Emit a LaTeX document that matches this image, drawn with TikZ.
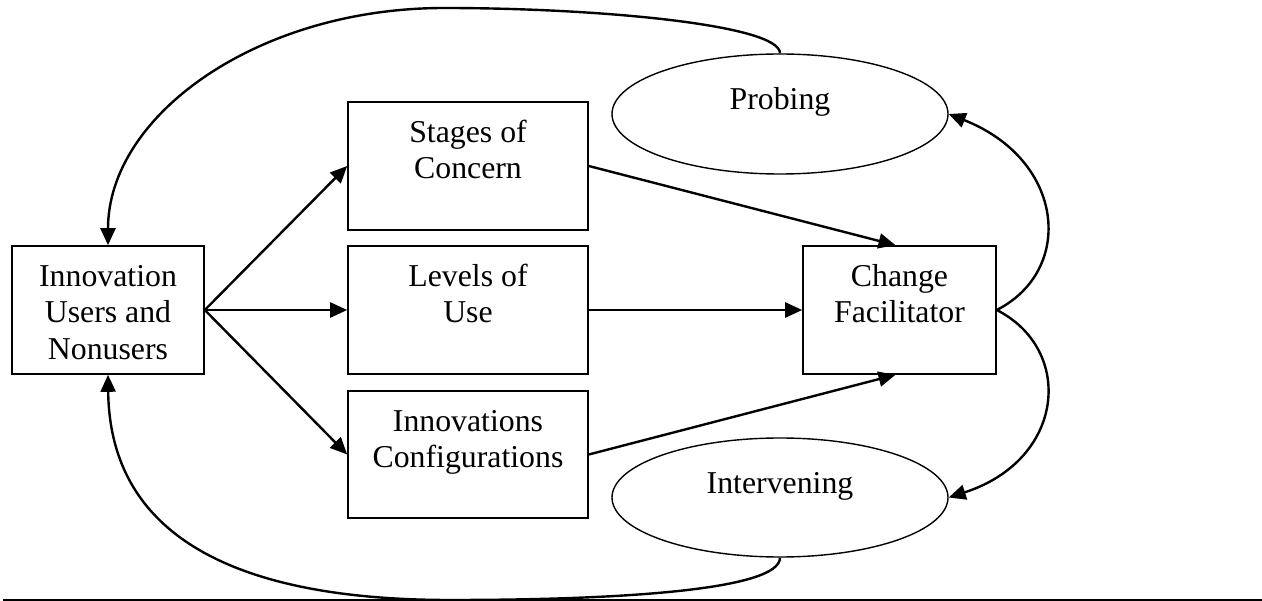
\documentclass[tikz,border=0pt]{standalone}
\usepackage{fontspec}
\setmainfont{Liberation Serif}
\usetikzlibrary{arrows.meta,shapes.geometric}
\begin{document}
\begin{tikzpicture}[x=1pt,y=-1pt,
  boxnode/.style={draw, line width=1.6pt, rectangle, inner sep=0pt},
  ellnode/.style={draw, line width=1.4pt, ellipse, inner sep=0pt},
  lbl/.style={align=center, inner sep=0pt, anchor=north, font=\fontsize{31.8}{36.5}\selectfont},
  conn/.style={line width=2.4pt, -{Triangle[length=17pt,width=15pt]}},
]
\useasboundingbox (0,0) rectangle (1262,601);

% boxes
\node[boxnode, minimum width=192pt, minimum height=128pt] (users) at (108,310) {};
\node[boxnode, minimum width=240pt, minimum height=128pt] (soc) at (468,166) {};
\node[boxnode, minimum width=240pt, minimum height=128pt] (lou) at (468,310) {};
\node[boxnode, minimum width=240pt, minimum height=127pt] (ic) at (468,454.5) {};
\node[boxnode, minimum width=193pt, minimum height=128pt] (chg) at (899.5,310) {};
\node[ellnode, minimum width=336pt, minimum height=120pt] (pr) at (780,114) {};
\node[ellnode, minimum width=336pt, minimum height=119pt] (iv) at (780,497.5) {};

% texts
\node[lbl] (usersT) at (108,260.45) {\strut Innovation\\\strut Users and\\\strut Nonusers};
\node[lbl] (socT) at (468,116.45) {\strut Stages of\\\strut Concern};
\node[lbl] (louT) at (468,260.45) {\strut Levels of\\\strut Use};
\node[lbl] (icT) at (468,405.45) {\strut Innovations\\\strut Configurations};
\node[lbl] (chgT) at (899.5,260.45) {\strut Change\\\strut Facilitator};
\node[lbl] (prT) at (780,83.45) {\strut Probing};
\node[lbl] (ivT) at (780,467.45) {\strut Intervening};

% straight connectors
\draw[conn] (users.east) -- (soc.west);
\draw[conn] (users.east) -- (lou.west);
\draw[conn] (users.east) -- (ic.west);
\draw[conn] (soc.east) -- ([xshift=-4pt]chg.north);
\draw[conn] (lou.east) -- (chg.west);
\draw[conn] (ic.east) -- ([xshift=-4pt]chg.south);

% curved connectors
\draw[conn] (chg.east) .. controls (1075,270) and (1065,160) .. (pr.east);
\draw[conn] (chg.east) .. controls (1075,350) and (1065,460) .. (iv.east);
\coordinate (topP) at (444,8);
\coordinate (botP) at (450,600);
\draw[conn] (pr.north) .. controls (780,25) and (600,8) .. (topP)
  .. controls (258,8) and (108,115) .. (users.north);
\draw[conn] (iv.south) .. controls (780,590) and (620,600) .. (botP)
  .. controls (280,600) and (110,560) .. (users.south);

% bottom rule
\draw[line width=1.6pt] (3,600) -- (1262,600);
\end{tikzpicture}
\end{document}
